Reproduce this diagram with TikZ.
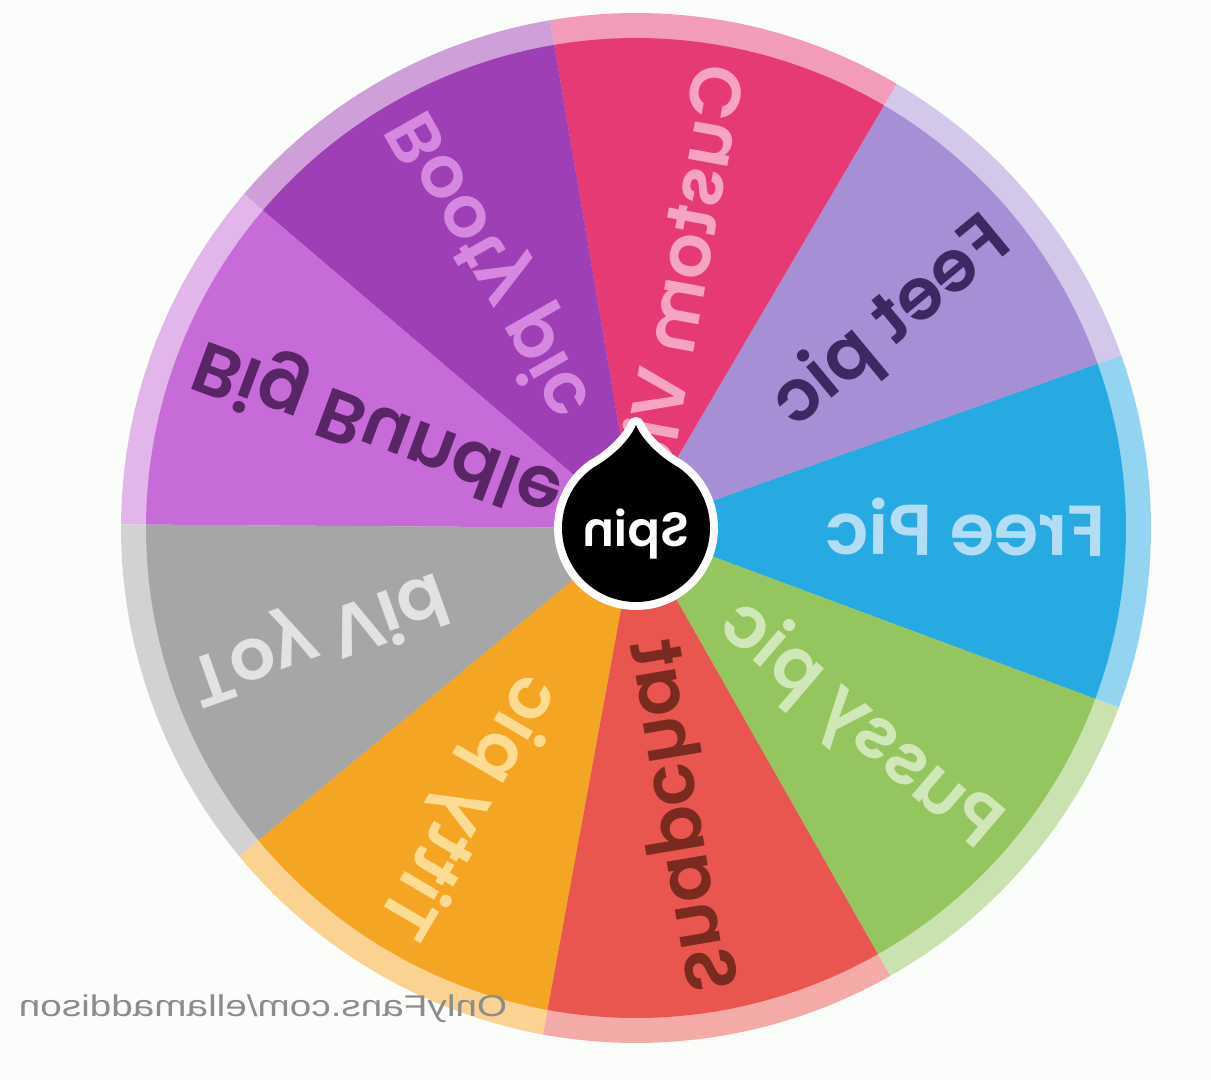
\documentclass[tikz,border=0pt]{standalone}
\usepackage{fontspec}
\usepackage{tikz}
\setmainfont{Liberation Sans}
\newfontfamily\wheelfont{Poppins}[BoldFont={* SemiBold}]
\definecolor{bgc}{HTML}{FBFDFB}
\definecolor{freec}{HTML}{27AAE1}
\definecolor{feetc}{HTML}{A78FD6}
\definecolor{customc}{HTML}{E63A74}
\definecolor{bootyc}{HTML}{9F3FB6}
\definecolor{bundlec}{HTML}{C66BD7}
\definecolor{toyc}{HTML}{A6A6A6}
\definecolor{tittyc}{HTML}{F5A524}
\definecolor{snapc}{HTML}{E9564F}
\definecolor{pussyc}{HTML}{95C55E}
\definecolor{freet}{HTML}{B3DDF4}
\definecolor{feett}{HTML}{3D2862}
\definecolor{customt}{HTML}{F5A4C4}
\definecolor{bootyt}{HTML}{D687E0}
\definecolor{bundlet}{HTML}{5A2566}
\definecolor{toyt}{HTML}{E2E2E2}
\definecolor{tittyt}{HTML}{FCDB92}
\definecolor{snapt}{HTML}{7A2A1E}
\definecolor{pussyt}{HTML}{D0E8B8}
\definecolor{markc}{HTML}{8C8C8C}
\tikzset{
    every node/.style={inner sep=0pt, outer sep=0pt}
}
\tikzset{
    slice label/.style={anchor=west, text height=25pt, text depth=0pt,
        xscale=-1, font=\wheelfont\bfseries\fontsize{36}{40}\selectfont}
}
\tikzset{
    ring/.style={fill=#1!50!white},
    slice/.style={fill=#1}
}

\begin{document}
\begin{tikzpicture}[x=0.5pt, y=0.5pt]
  \useasboundingbox (0,0) rectangle (1211,1080);
  \fill[bgc] (0,0) rectangle (1211,1080);
  \begin{scope}[shift={(636,552)}]
  \fill[ring=freec] (0,0) -- (-20.4:515) arc[start angle=-20.4, end angle=19.6, radius=515] -- cycle;
  \fill[ring=feetc] (0,0) -- (19.6:515) arc[start angle=19.6, end angle=59.6, radius=515] -- cycle;
  \fill[ring=customc] (0,0) -- (59.6:515) arc[start angle=59.6, end angle=99.6, radius=515] -- cycle;
  \fill[ring=bootyc] (0,0) -- (99.6:515) arc[start angle=99.6, end angle=139.6, radius=515] -- cycle;
  \fill[ring=bundlec] (0,0) -- (139.6:515) arc[start angle=139.6, end angle=179.6, radius=515] -- cycle;
  \fill[ring=toyc] (0,0) -- (179.6:515) arc[start angle=179.6, end angle=219.6, radius=515] -- cycle;
  \fill[ring=tittyc] (0,0) -- (219.6:515) arc[start angle=219.6, end angle=259.6, radius=515] -- cycle;
  \fill[ring=snapc] (0,0) -- (259.6:515) arc[start angle=259.6, end angle=299.6, radius=515] -- cycle;
  \fill[ring=pussyc] (0,0) -- (299.6:515) arc[start angle=299.6, end angle=339.6, radius=515] -- cycle;
  \fill[slice=freec] (0,0) -- (-20.4:490) arc[start angle=-20.4, end angle=19.6, radius=490] -- cycle;
  \fill[slice=feetc] (0,0) -- (19.6:490) arc[start angle=19.6, end angle=59.6, radius=490] -- cycle;
  \fill[slice=customc] (0,0) -- (59.6:490) arc[start angle=59.6, end angle=99.6, radius=490] -- cycle;
  \fill[slice=bootyc] (0,0) -- (99.6:490) arc[start angle=99.6, end angle=139.6, radius=490] -- cycle;
  \fill[slice=bundlec] (0,0) -- (139.6:490) arc[start angle=139.6, end angle=179.6, radius=490] -- cycle;
  \fill[slice=toyc] (0,0) -- (179.6:490) arc[start angle=179.6, end angle=219.6, radius=490] -- cycle;
  \fill[slice=tittyc] (0,0) -- (219.6:490) arc[start angle=219.6, end angle=259.6, radius=490] -- cycle;
  \fill[slice=snapc] (0,0) -- (259.6:490) arc[start angle=259.6, end angle=299.6, radius=490] -- cycle;
  \fill[slice=pussyc] (0,0) -- (299.6:490) arc[start angle=299.6, end angle=339.6, radius=490] -- cycle;
  \node (free) [rotate=-0.4, slice label, text=freet] at (-0.4:470) {Free Pic};
  \node (feet) [rotate=39.6, slice label, text=feett] at (39.6:470) {Feet pic};
  \node (custom) [rotate=79.6, slice label, text=customt] at (79.6:470) {Custom Vid};
  \node (booty) [rotate=119.6, slice label, text=bootyt] at (119.6:470) {Booty pic};
  \node (bundle) [rotate=159.6, slice label, text=bundlet] at (159.6:470) {Big Bundle};
  \node (toy) [rotate=199.6, slice label, text=toyt] at (199.6:470) {Toy Vid};
  \node (titty) [rotate=239.6, slice label, text=tittyt] at (239.6:470) {Titty pic};
  \node (snap) [rotate=279.6, slice label, text=snapt] at (279.6:470) {Snapchat};
  \node (pussy) [rotate=319.6, slice label, text=pussyt] at (319.6:470) {Pussy pic};
  \filldraw[white, line width=8pt, line join=round] (0,103) .. controls (-5,90) and (-22,72) .. (125:74)
    arc[start angle=125, end angle=415, radius=74] .. controls (22,72) and (5,90) .. (0,103) -- cycle;
  \fill[black] (0,103) .. controls (-5,90) and (-22,72) .. (125:74)
    arc[start angle=125, end angle=415, radius=74] .. controls (22,72) and (5,90) .. (0,103) -- cycle;
  \node (spin) [anchor=base, xscale=-1, text=white, font=\wheelfont\bfseries\fontsize{24}{28}\selectfont] at (0,-19) {Spin};
  \end{scope}
  \node (mark) [anchor=base, xscale=-1.29, text=markc, font=\fontsize{15}{18}\selectfont] at (263,63) {OnlyFans.com/ellamaddison};
\end{tikzpicture}
\end{document}
